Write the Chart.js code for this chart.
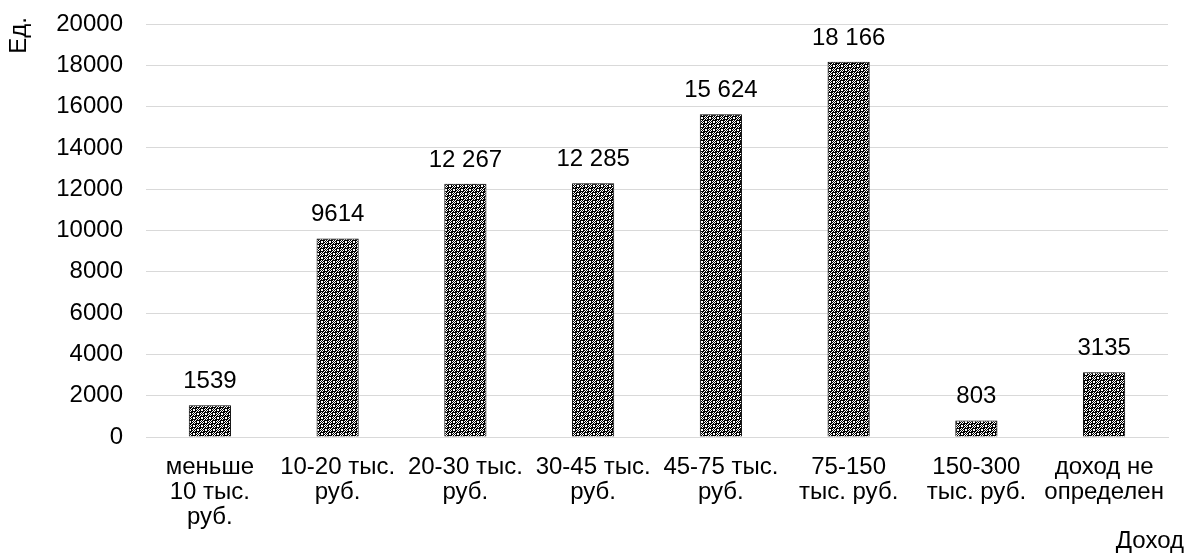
<!DOCTYPE html>
<html>
<head>
<meta charset="utf-8">
<script src="https://cdn.jsdelivr.net/npm/chart.js@4/dist/chart.umd.min.js"></script>
<style>
  html, body { margin: 0; padding: 0; background: #fff; }
  #wrap { width: 1189px; height: 556px; position: relative; }
</style>
</head>
<body>
<div id="wrap"><canvas id="c" width="1189" height="556"></canvas></div>
<script>
const categories = [
  ['меньше', '10 тыс.', 'руб.'],
  ['10-20 тыс.', 'руб.'],
  ['20-30 тыс.', 'руб.'],
  ['30-45 тыс.', 'руб.'],
  ['45-75 тыс.', 'руб.'],
  ['75-150', 'тыс. руб.'],
  ['150-300', 'тыс. руб.'],
  ['доход не', 'определен']
];
const counts = [1539, 9614, 12267, 12285, 15624, 18166, 803, 3135];
const yTicks = [0, 2000, 4000, 6000, 8000, 10000, 12000, 14000, 16000, 18000, 20000];
const yTitle = 'Ед.';
const xTitle = 'Доход';

const FONT = "'Liberation Sans', Arial, sans-serif";
const FS = 24;

// Dotted checker fill for the bars
function makePattern() {
  const p = document.createElement('canvas');
  p.width = 8; p.height = 8;
  const g = p.getContext('2d');
  g.fillStyle = '#fff';
  g.fillRect(0, 0, 8, 8);
  g.fillStyle = '#000';
  for (let y = 0; y < 8; y++) {
    for (let x = 0; x < 8; x++) {
      if ((x + y) % 2 === 0) g.fillRect(x, y, 1, 1);
    }
  }
  // dark frame around each dot, then the white dot itself
  g.fillRect(0, 0, 4, 4);
  g.fillRect(4, 4, 4, 4);
  g.fillStyle = '#fff';
  g.fillRect(1, 1, 2, 2);
  g.fillRect(5, 5, 2, 2);
  return g.createPattern(p, 'repeat');
}

// Russian-style grouping: thousands separated only for 5+ digits
function fmt(v) {
  const s = String(v);
  if (s.length <= 4) return s;
  return s.replace(/\B(?=(\d{3})+(?!\d))/g, ' ');
}

const valueLabels = {
  id: 'valueLabels',
  afterDatasetsDraw(chart) {
    const { ctx } = chart;
    const meta = chart.getDatasetMeta(0);
    ctx.save();
    ctx.font = FS + 'px ' + FONT;
    ctx.fillStyle = '#000';
    ctx.textAlign = 'center';
    ctx.textBaseline = 'alphabetic';
    meta.data.forEach((bar, i) => {
      ctx.fillText(fmt(counts[i]), bar.x, bar.y - 17);
    });
    ctx.restore();
  }
};

const axisTitles = {
  id: 'axisTitles',
  afterDraw(chart) {
    const { ctx } = chart;
    ctx.save();
    ctx.font = FS + 'px ' + FONT;
    ctx.fillStyle = '#000';
    ctx.textAlign = 'right';
    ctx.textBaseline = 'alphabetic';
    ctx.fillText(xTitle, 1184, 548);
    ctx.translate(26, 17);
    ctx.rotate(-Math.PI / 2);
    ctx.textAlign = 'right';
    ctx.fillText(yTitle, 0, 0);
    ctx.restore();
  }
};

new Chart(document.getElementById('c'), {
  type: 'bar',
  data: {
    labels: categories,
    datasets: [{
      data: counts,
      backgroundColor: makePattern(),
      borderColor: '#000',
      borderWidth: 1,
      barPercentage: 0.33,
      categoryPercentage: 1.0
    }]
  },
  options: {
    responsive: false,
    animation: false,
    layout: { padding: { left: 0, right: 21, top: 24, bottom: 0 } },
    plugins: { legend: { display: false }, tooltip: { enabled: false } },
    scales: {
      x: {
        grid: { display: false, drawTicks: false },
        border: { color: '#d9d9d9', width: 1 },
        ticks: {
          color: '#000',
          font: { family: FONT, size: FS, lineHeight: 25 / FS },
          padding: 18,
          maxRotation: 0,
          autoSkip: false
        },
        afterFit(axis) { axis.height = 119; }
      },
      y: {
        min: 0,
        max: 20000,
        afterBuildTicks(axis) { axis.ticks = yTicks.map(v => ({ value: v })); },
        grid: { color: '#d9d9d9', drawTicks: false },
        border: { display: false },
        ticks: {
          color: '#000',
          font: { family: FONT, size: FS },
          padding: 23,
          callback: v => String(v)
        },
        afterFit(axis) { axis.width = 146; axis.paddingTop = 0; axis.paddingBottom = 0; }
      }
    }
  },
  plugins: [valueLabels, axisTitles]
});
</script>
</body>
</html>
